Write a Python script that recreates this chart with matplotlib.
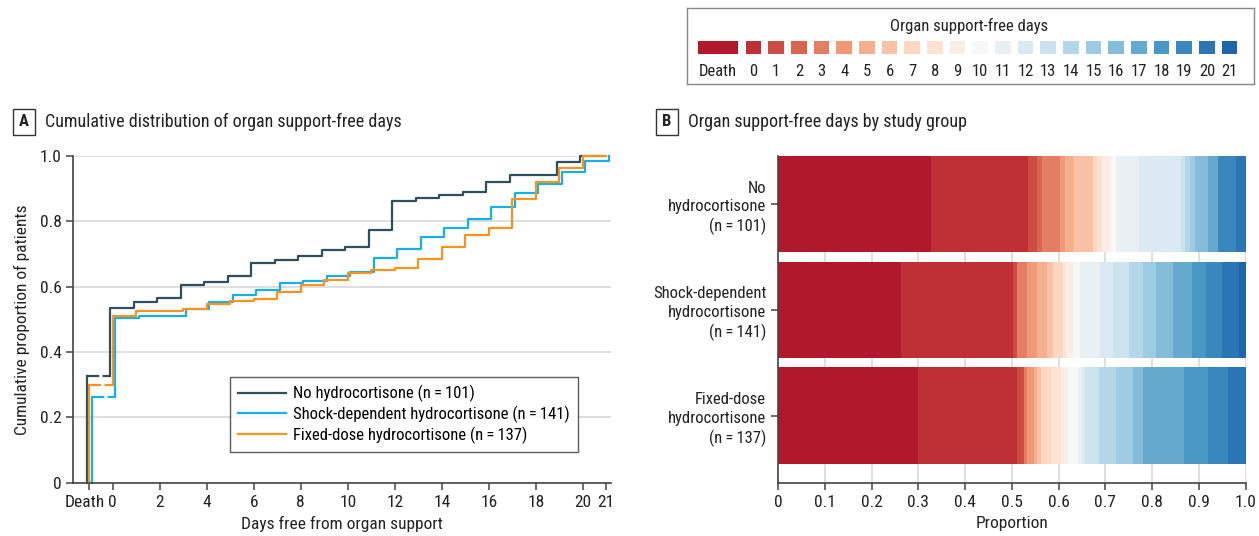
import numpy as np
import matplotlib
matplotlib.use("Agg")
import matplotlib.pyplot as plt
from matplotlib.transforms import ScaledTranslation

plt.rcParams['font.family'] = ['Roboto Condensed', 'DejaVu Sans']

# categories: death, then 0..21 organ support-free days
categories = ['Death'] + [str(d) for d in range(22)]
day_values = np.arange(-1, 22)

groups = ['No hydrocortisone (n\u2009=\u2009101)',
          'Shock-dependent hydrocortisone (n\u2009=\u2009141)',
          'Fixed-dose hydrocortisone (n\u2009=\u2009137)']
group_ticks = ['No\nhydrocortisone\n(n\u2009=\u2009101)',
               'Shock-dependent\nhydrocortisone\n(n\u2009=\u2009141)',
               'Fixed-dose\nhydrocortisone\n(n\u2009=\u2009137)']
n_patients = [101, 141, 137]

# patients per category (Death, 0, 1, ..., 21)
no_hc = [33, 21, 2, 1, 4, 1, 2, 4, 1, 1, 2, 1, 5, 9, 1, 1, 1, 3, 2, 0, 4, 2, 0]
shock_hc = [37, 34, 1, 0, 3, 3, 3, 2, 3, 1, 2, 2, 6, 4, 5, 4, 4, 5, 6, 4, 5, 5, 2]
fixed_hc = [41, 29, 2, 0, 1, 2, 1, 1, 3, 3, 2, 3, 1, 1, 4, 5, 5, 3, 12, 7, 6, 5, 0]
all_counts = [no_hc, shock_hc, fixed_hc]

line_colors = ['#2f4f5c', '#16b0e8', '#f7941d']
offsets = [-0.1, 0.1, 0.0]
seg_colors = plt.cm.RdBu(np.linspace(0.1, 0.9, 23))

axis_col = '#444444'
text_col = '#222222'
grid_col = '#dcdcdc'

W, H = 1259, 536
fig = plt.figure(figsize=(W / 100, H / 100), dpi=100)

def px_box(x0, y0, x1, y1):
    return [x0 / W, 1 - y1 / H, (x1 - x0) / W, (y1 - y0) / H]

# ---------- panel A ----------
axA = fig.add_axes(px_box(73.3, 156, 611, 482.7))
for counts, n, col, off, lab in zip(all_counts, n_patients, line_colors, offsets, groups):
    cum = np.cumsum(counts) / n
    axA.plot([day_values[0] + off] * 2, [0, cum[0]], color=col, lw=1.6, clip_on=False)
    axA.plot([day_values[0] + off, day_values[1] + off], [cum[0], cum[0]], color=col, lw=1.6,
             ls=(0, (5.5, 1.5)), clip_on=False)
    xs = np.r_[day_values[1], day_values[1:]] + off
    ys = np.r_[cum[0], cum[1:]]
    axA.step(xs, ys, where='post', color=col, lw=1.6, label=lab, clip_on=False)

axA.set_xlim(-1.68, 21.2)
axA.set_ylim(0, 1.0)
axA.set_yticks([0, 0.2, 0.4, 0.6, 0.8, 1.0])
axA.set_yticklabels(['0', '0.2', '0.4', '0.6', '0.8', '1.0'])
axA.set_xticks([-1] + list(range(0, 21, 2)) + [21])
axA.set_xticklabels(['Death'] + [str(d) for d in range(0, 21, 2)] + ['21'])
axA.grid(axis='y', color=grid_col, lw=1.3)
axA.set_axisbelow(True)
axA.set_xlabel('Days free from organ support', fontsize=12.5, color=text_col, labelpad=5)
axA.set_ylabel('Cumulative proportion of patients', fontsize=12.5, color=text_col, labelpad=7)
leg = axA.legend(loc='lower left', bbox_to_anchor=(0.291, 0.094), fontsize=12,
                 frameon=True, fancybox=False, edgecolor='#333333', handlelength=2.9,
                 borderpad=0.5, labelspacing=0.2, handletextpad=0.4, borderaxespad=0)
leg.get_frame().set_linewidth(1.0)

# ---------- panel B ----------
axB = fig.add_axes(px_box(778, 156, 1245.5, 482.7))
for i, (counts, n) in enumerate(zip(all_counts, n_patients)):
    left = 0.0
    for j, c in enumerate(counts):
        axB.barh(i, c / n, left=left, height=0.91, color=seg_colors[j], linewidth=0)
        left += c / n
axB.set_xlim(0, 1.0)
axB.set_ylim(2.635, -0.455)
axB.set_yticks(range(3))
axB.set_yticklabels(group_ticks, linespacing=1.3)
axB.set_xticks(np.arange(0, 1.01, 0.1))
axB.set_xticklabels(['0'] + ['%.1f' % v for v in np.arange(0.1, 1.01, 0.1)])
axB.grid(axis='x', color=grid_col, lw=1.3)
axB.set_axisbelow(True)
axB.set_xlabel('Proportion', fontsize=12.5, color=text_col, labelpad=5)

for ax in (axA, axB):
    for s in ('top', 'right'):
        ax.spines[s].set_visible(False)
    for s in ('left', 'bottom'):
        ax.spines[s].set_color(axis_col)
        ax.spines[s].set_linewidth(1.2)
    ax.tick_params(colors=axis_col, labelcolor=text_col, labelsize=12.5, length=5, width=1.1)
axB.tick_params(axis='y', labelsize=12)

# nudge the "Death" label left so it clears the 0 label
death_lab = axA.get_xticklabels()[0]
death_lab.set_transform(death_lab.get_transform() + ScaledTranslation(-5 / 100, 0, fig.dpi_scale_trans))

# panel headers
for letter, bx, tx, title in [('A', 24, 45, 'Cumulative distribution of organ support-free days'),
                              ('B', 667, 688, 'Organ support-free days by study group')]:
    fig.text(bx / W, 1 - 122 / H, letter, fontsize=12, fontweight='bold', color=text_col,
             ha='center', va='center',
             bbox=dict(boxstyle='square,pad=0.35', fc='white', ec='#333333', lw=1))
    fig.text(tx / W, 1 - 122 / H, title, fontsize=13, color=text_col, ha='left', va='center')

# ---------- colour key ----------
axK = fig.add_axes(px_box(687, 8, 1254, 84))
axK.set_xlim(687, 1254)
axK.set_ylim(84, 8)
axK.set_xticks([])
axK.set_yticks([])
for s in axK.spines.values():
    s.set_color('#888888')
    s.set_linewidth(1.0)
key_x = np.r_[717.5, 753.5 + 22.67 * np.arange(22)]
key_w = np.r_[40, np.full(22, 15.5)]
axK.bar(key_x, 13, width=key_w, bottom=41, color=seg_colors, linewidth=0)
for x, lab in zip(key_x, categories):
    axK.text(x, 71, lab, ha='center', va='center', fontsize=12, color=text_col)
axK.text(969, 26, 'Organ support-free days', ha='center', va='center', fontsize=12, color=text_col)

fig.savefig('out.png', dpi=100)
